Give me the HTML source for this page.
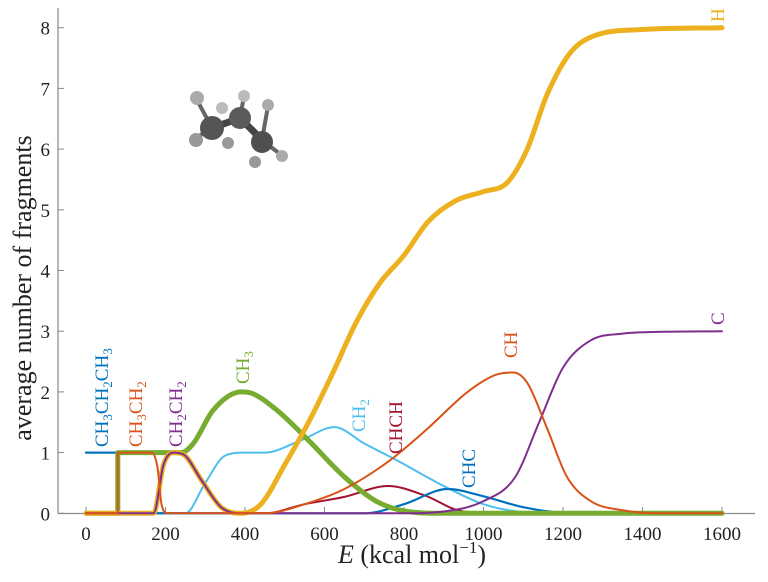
<!DOCTYPE html>
<html><head><meta charset="utf-8"><style>
body{margin:0;background:#fff}
svg,svg text{font-family:"Liberation Serif","DejaVu Serif",serif}
</style></head><body>
<svg id="s" width="768" height="577" xmlns="http://www.w3.org/2000/svg" font-family="Liberation Serif, serif">
<rect width="768" height="577" fill="#fff"/>
<g stroke="#888" stroke-width="1.2" fill="none">
<line x1="58" y1="513.5" x2="755" y2="513.5"/>
<line x1="58" y1="8" x2="58" y2="513.5"/>
</g>
<g id="ticks" stroke="#888" stroke-width="1"></g>
<g id="tl" font-size="19" fill="#222"></g>
<g id="curves" fill="none" stroke-linecap="round" stroke-linejoin="round"></g>
<g>
<line x1="212" y1="128" x2="240" y2="118" stroke="#444" stroke-width="7"/>
<line x1="240" y1="118" x2="262" y2="140" stroke="#444" stroke-width="7"/>
<line x1="212" y1="128" x2="197" y2="100" stroke="#666" stroke-width="4"/>
<line x1="212" y1="128" x2="196" y2="138" stroke="#666" stroke-width="4"/>
<line x1="240" y1="118" x2="244" y2="96" stroke="#666" stroke-width="4"/>
<line x1="262" y1="140" x2="280" y2="154" stroke="#666" stroke-width="4"/>
<line x1="262" y1="140" x2="268" y2="106" stroke="#666" stroke-width="4"/>
<circle cx="197" cy="98" r="7" fill="#aaa"/><circle cx="244" cy="96" r="6" fill="#bbb"/>
<circle cx="268" cy="105" r="6" fill="#aaa"/><circle cx="196" cy="140" r="7" fill="#999"/>
<circle cx="228" cy="143" r="6" fill="#999"/><circle cx="282" cy="156" r="6" fill="#aaa"/>
<circle cx="255" cy="162" r="6" fill="#999"/><circle cx="222" cy="108" r="6" fill="#bbb"/>
<circle cx="212" cy="128" r="12" fill="#555"/><circle cx="240" cy="118" r="11" fill="#5a5a5a"/>
<circle cx="262" cy="142" r="11" fill="#505050"/>
</g>
<g font-size="19">
<text transform="translate(108,447) rotate(-90)" fill="#0072BD">CH<tspan font-size="13" dy="4">3</tspan><tspan dy="-4">CH</tspan><tspan font-size="13" dy="4">2</tspan><tspan dy="-4">CH</tspan><tspan font-size="13" dy="4">3</tspan></text>
<text transform="translate(142,447) rotate(-90)" fill="#D95319">CH<tspan font-size="13" dy="4">3</tspan><tspan dy="-4">CH</tspan><tspan font-size="13" dy="4">2</tspan></text>
<text transform="translate(182,447) rotate(-90)" fill="#7E2F8E">CH<tspan font-size="13" dy="4">2</tspan><tspan dy="-4">CH</tspan><tspan font-size="13" dy="4">2</tspan></text>
<text transform="translate(249,384) rotate(-90)" fill="#77AC30">CH<tspan font-size="13" dy="4">3</tspan></text>
<text transform="translate(365,432) rotate(-90)" fill="#4DBEEE">CH<tspan font-size="13" dy="4">2</tspan></text>
<text transform="translate(402,454) rotate(-90)" fill="#A2142F">CHCH</text>
<text transform="translate(475,488) rotate(-90)" fill="#0072BD">CHC</text>
<text transform="translate(517,358) rotate(-90)" fill="#D95319">CH</text>
<text transform="translate(724,325) rotate(-90)" fill="#7E2F8E">C</text>
<text transform="translate(724,22) rotate(-90)" fill="#EDB120">H</text>
</g>
<text transform="translate(31,288) rotate(-90)" font-size="26" text-anchor="middle" fill="#222">average number of fragments</text>
<text x="412" y="563" font-size="26" text-anchor="middle" fill="#222"><tspan font-style="italic">E</tspan> (kcal mol<tspan font-size="17" dy="-10">−1</tspan><tspan dy="10">)</tspan></text>
</svg>
<script>
const X=e=>86+e*0.3975, Y=v=>513.3-v*60.7;
const NS="http://www.w3.org/2000/svg";
const tk=document.getElementById('ticks'), tl=document.getElementById('tl');
for(let i=0;i<=8;i++){let y=Y(i);tk.innerHTML+=`<line x1="58" y1="${y}" x2="64" y2="${y}"/>`;tl.innerHTML+=`<text x="50" y="${y+7}" text-anchor="end">${i}</text>`;}
for(let e=0;e<=1600;e+=200){let x=X(e);tk.innerHTML+=`<line x1="${x}" y1="513.5" x2="${x}" y2="507"/>`;tl.innerHTML+=`<text x="${x}" y="540" text-anchor="middle">${e}</text>`;}
function mono(pts){
  // monotone cubic (Fritsch-Carlson) in data space, pts strictly increasing x
  const n=pts.length,xs=pts.map(p=>p[0]),ys=pts.map(p=>p[1]);
  const dk=[],m=[];
  for(let i=0;i<n-1;i++)dk.push((ys[i+1]-ys[i])/(xs[i+1]-xs[i]));
  m[0]=dk[0];m[n-1]=dk[n-2];
  for(let i=1;i<n-1;i++){m[i]=(dk[i-1]*dk[i]<=0)?0:(dk[i-1]+dk[i])/2;}
  for(let i=0;i<n-1;i++){if(dk[i]===0){m[i]=0;m[i+1]=0;continue;}
    let a=m[i]/dk[i],b=m[i+1]/dk[i],s=a*a+b*b;if(s>9){let t=3/Math.sqrt(s);m[i]=t*a*dk[i];m[i+1]=t*b*dk[i];}}
  let d='';
  for(let i=0;i<n-1;i++){let h=xs[i+1]-xs[i];
    d+=`C${X(xs[i]+h/3)},${Y(ys[i]+m[i]*h/3)} ${X(xs[i+1]-h/3)},${Y(ys[i+1]-m[i+1]*h/3)} ${X(xs[i+1])},${Y(ys[i+1])}`;}
  return d;
}
function path(pts){
  // split at vertical jumps
  let segs=[[pts[0]]];
  for(let i=1;i<pts.length;i++){if(pts[i][0]===pts[i-1][0])segs.push([pts[i]]);else segs[segs.length-1].push(pts[i]);}
  let d=`M${X(pts[0][0])},${Y(pts[0][1])}`;
  segs.forEach((s,k)=>{if(k>0)d+=`L${X(s[0][0])},${Y(s[0][1])}`;if(s.length>1)d+=mono(s);});
  return d;
}
const C=[
 ['#A2142F',2,[[0,0],[450,0],[550,0.15],[650,0.27],[760,0.45],[850,0.3],[950,0.03],[1100,0],[1600,0]]],
 ['#4DBEEE',2,[[0,0],[250,0],[300,0.5],[350,0.95],[400,1.0],[450,1.0],[540,1.2],[625,1.42],[700,1.15],[780,0.88],[900,0.45],[1000,0.15],[1100,0.02],[1200,0],[1600,0]]],
 ['#0072BD',2.2,[[0,1],[80,1],[80,0],[700,0],[800,0.15],[910,0.4],[1000,0.28],[1100,0.1],[1200,0.01],[1300,0],[1600,0]]],
 ['#77AC30',5,[[0,0],[80,0],[80,1],[240,1],[270,1.15],[320,1.7],[390,2.0],[420,1.97],[480,1.7],[560,1.2],[650,0.6],[730,0.2],[800,0.04],[900,0],[1600,0]]],
 ['#EDB120',5,[[0,0],[170,0],[195,0.8],[220,1],[245,0.97],[290,0.55],[340,0.1],[390,0],[440,0.15],[500,0.8],[560,1.5],[620,2.3],[680,3.15],[740,3.8],[800,4.25],[860,4.8],[930,5.15],[1000,5.3],[1060,5.45],[1110,6.0],[1160,6.9],[1220,7.6],[1280,7.87],[1400,7.97],[1600,8.0]]],
 ['#7E2F8E',2,[[0,0],[170,0],[195,0.8],[220,1],[245,0.97],[290,0.55],[340,0.1],[390,0],[800,0],[900,0.03],[1000,0.2],[1080,0.6],[1140,1.5],[1200,2.4],[1270,2.85],[1350,2.96],[1450,2.99],[1600,3.0]]],
 ['#D95319',2,[[0,0],[80,0],[80,1],[165,1],[180,0.75],[190,0.15],[205,0],[450,0],[550,0.15],[650,0.4],[760,0.85],[860,1.4],[960,2.0],[1030,2.28],[1075,2.32],[1110,2.15],[1160,1.4],[1210,0.6],[1270,0.2],[1350,0.05],[1450,0],[1600,0]]]
];
const g=document.getElementById('curves');
for(const [c,w,p] of C){const e=document.createElementNS(NS,'path');e.setAttribute('d',path(p));e.setAttribute('stroke',c);e.setAttribute('stroke-width',w);g.appendChild(e);}
</script>
</body></html>
